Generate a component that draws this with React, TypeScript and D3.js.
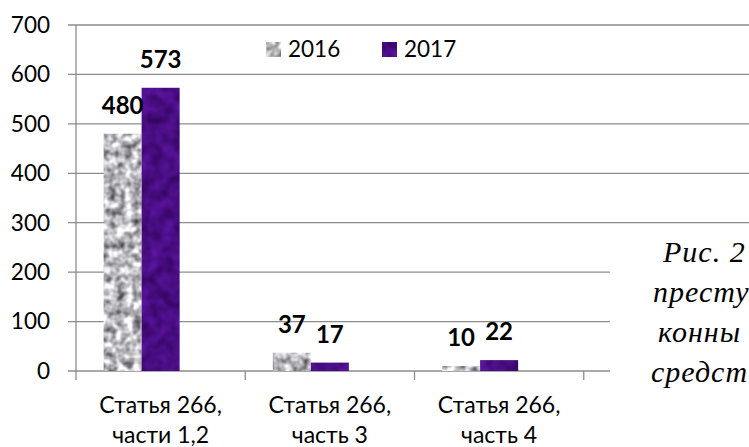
import React from "react";
import * as d3 from "d3";

// categories (two text lines each); the 4th slot is empty in the source chart
const categories = ["c1", "c2", "c3", "c4"];
const categoryLines = [
  ["Статья 266,", "части 1,2"],
  ["Статья 266,", "часть 3"],
  ["Статья 266,", "часть 4"],
  [],
];
const seriesNames = ["2016", "2017"];
const values2016 = [480, 37, 10];
const values2017 = [573, 17, 22];
const yTicks = [0, 100, 200, 300, 400, 500, 600, 700];
// caption is cut off at the right edge in the source picture
const captionLines = ["Рис. 2", "престу", "конны", "средст"];

const W = 749;
const H = 447;
const font = "Lato, 'Open Sans', sans-serif";

export default function App() {
  const x0 = d3.scaleBand().domain(categories).range([76, 753]);
  // three slots per group (third one unused, like the original Excel chart)
  const x1 = d3
    .scaleBand()
    .domain([...seriesNames, "_"])
    .range([0, x0.bandwidth()])
    .paddingInner(0)
    .paddingOuter(0.727);
  const y = d3.scaleLinear().domain([0, 700]).range([371, 25]);

  const series = [
    { name: "2016", values: values2016, filter: "url(#granite)" },
    { name: "2017", values: values2017, filter: "url(#velvet)" },
  ];

  const grid = "#8c8c8c";

  return (
    <svg
      width={W}
      height={H}
      style={{ position: "absolute", left: 0, top: 0, background: "#fff" }}
    >
      <defs>
        <filter
          id="granite"
          x="0"
          y="0"
          width="1"
          height="1"
          filterUnits="objectBoundingBox"
          colorInterpolationFilters="sRGB"
        >
          <feTurbulence type="fractalNoise" baseFrequency="0.12" numOctaves="2" seed="4" result="n" />
          <feColorMatrix
            in="n"
            type="matrix"
            values="1.25 0 0 0 0.1  1.25 0 0 0 0.1  1.25 0 0 0 0.12  0 0 0 0 1"
            result="g"
          />
          <feComposite in="g" in2="SourceGraphic" operator="in" />
        </filter>
        <filter
          id="velvet"
          x="0"
          y="0"
          width="1"
          height="1"
          filterUnits="objectBoundingBox"
          colorInterpolationFilters="sRGB"
        >
          <feTurbulence type="fractalNoise" baseFrequency="0.08" numOctaves="2" seed="7" result="n" />
          <feColorMatrix
            in="n"
            type="matrix"
            values="0.25 0 0 0 0.16  0.1 0 0 0 0.0  0.4 0 0 0 0.31  0 0 0 0 1"
            result="g"
          />
          <feComposite in="g" in2="SourceGraphic" operator="in" />
        </filter>
      </defs>

      {/* gridlines */}
      {yTicks.map((t) => (
        <line key={t} x1={68} x2={W} y1={y(t)} y2={y(t)} stroke={grid} strokeWidth={1.3} />
      ))}
      {/* y axis */}
      <line x1={76} x2={76} y1={y(700)} y2={380} stroke={grid} strokeWidth={1.3} />
      {categories.map((c) => (
        <line
          key={c}
          x1={x0(c)! + x0.bandwidth()}
          x2={x0(c)! + x0.bandwidth()}
          y1={y(0)}
          y2={380}
          stroke={grid}
          strokeWidth={1.3}
        />
      ))}
      {yTicks.map((t) => (
        <text
          key={t}
          x={50}
          y={y(t)}
          dy="0.35em"
          textAnchor="end"
          fontFamily={font}
          fontSize={22.5}
          fill="#000"
        >
          {t}
        </text>
      ))}

      {/* bars */}
      {series.map((s) =>
        s.values.map((v, i) => {
          const c = categories[i];
          const bx = x0(c)! + x1(s.name)!;
          return (
            <rect
              key={s.name + i}
              x={bx}
              y={y(v)}
              width={x1.bandwidth()}
              height={y(0) - y(v)}
              fill="#000"
              filter={s.filter}
            />
          );
        })
      )}
      {/* data labels */}
      {series.map((s) =>
        s.values.map((v, i) => {
          const c = categories[i];
          const cx = x0(c)! + x1(s.name)! + x1.bandwidth() / 2;
          return (
            <text
              key={"l" + s.name + i}
              x={cx}
              y={y(v) - 20}
              textAnchor="middle"
              fontFamily={font}
              fontWeight="bold"
              fontSize={24}
              fill="#000"
            >
              {v}
            </text>
          );
        })
      )}

      {/* category labels */}
      {categories.map((c, i) => (
        <text
          key={"c" + c}
          x={x0(c)! + x0.bandwidth() / 2}
          textAnchor="middle"
          fontFamily={font}
          fontSize={23}
          fill="#000"
        >
          {categoryLines[i].map((ln, k) => (
            <tspan key={k} x={x0(c)! + x0.bandwidth() / 2} y={413 + k * 30}>
              {ln}
            </tspan>
          ))}
        </text>
      ))}

      {/* legend */}
      {series.map((s, i) => {
        const lx = [266, 382][i];
        return (
          <g key={"lg" + s.name}>
            <rect x={lx} y={42} width={15} height={15} fill="#000" filter={s.filter} />
            <text x={lx + 22} y={57} fontFamily={font} fontSize={22.5} fill="#000">
              {s.name}
            </text>
          </g>
        );
      })}

      {/* caption text box overlapping the chart */}
      <rect x={610} y={224} width={W - 610} height={H - 224} fill="#fff" />
      {captionLines.map((ln, k) => (
        <text
          key={"cap" + k}
          x={[663, 653, 658, 651][k]}
          y={262 + k * 40}
          fontFamily="'Liberation Serif', 'DejaVu Serif', serif"
          fontStyle="italic"
          fontSize={30}
          letterSpacing={1}
          fill="#000"
        >
          {ln}
        </text>
      ))}
    </svg>
  );
}
